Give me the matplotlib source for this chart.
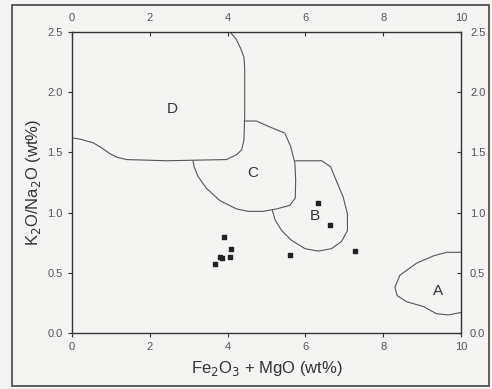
import matplotlib
matplotlib.use("Agg")
import matplotlib.pyplot as plt
from matplotlib.patches import Rectangle

plt.rcParams['font.family'] = ['Liberation Sans', 'DejaVu Sans']

# sample points
fe_mg = [3.90, 4.09, 4.07, 3.80, 3.86, 3.68, 5.61, 6.33, 6.62, 7.28]
k_na = [0.80, 0.70, 0.63, 0.63, 0.62, 0.57, 0.65, 1.08, 0.90, 0.68]

# tectonic field outlines (Bhatia 1983)
field_d_x = [4.06, 4.22, 4.34, 4.42, 4.44, 4.44, 4.42, 4.36, 4.23, 3.97, 2.43, 1.40,
             1.15, 0.97, 0.75, 0.54, 0.20, 0.0]
field_d_y = [2.50, 2.44, 2.36, 2.29, 2.20, 1.80, 1.60, 1.52, 1.48, 1.44, 1.43, 1.44,
             1.46, 1.49, 1.54, 1.58, 1.61, 1.62]

field_c_x = [4.43, 4.74, 5.09, 5.47, 5.62, 5.73, 5.75, 5.74, 5.60, 5.26, 4.91, 4.53,
             4.23, 3.80, 3.46, 3.24, 3.14, 3.11]
field_c_y = [1.76, 1.76, 1.71, 1.66, 1.55, 1.41, 1.27, 1.12, 1.06, 1.03, 1.01, 1.01,
             1.03, 1.10, 1.20, 1.30, 1.38, 1.43]

field_b_x = [5.75, 6.42, 6.65, 6.80, 6.97, 7.08, 7.08, 6.93, 6.67, 6.33, 5.99, 5.64,
             5.39, 5.22, 5.15]
field_b_y = [1.43, 1.43, 1.38, 1.26, 1.13, 0.99, 0.85, 0.76, 0.70, 0.68, 0.70, 0.77,
             0.85, 0.94, 1.02]

field_a_x = [10.0, 9.63, 9.29, 8.86, 8.43, 8.30, 8.36, 8.60, 9.03, 9.37, 9.67, 10.0]
field_a_y = [0.67, 0.67, 0.64, 0.58, 0.48, 0.38, 0.31, 0.26, 0.22, 0.16, 0.15, 0.17]

field_labels = ['D', 'C', 'B', 'A']
label_x = [2.58, 4.64, 6.24, 9.40]
label_y = [1.86, 1.33, 0.97, 0.35]

bg = '#f4f4f2'
ink = '#333333'

fig = plt.figure(figsize=(4.92, 3.89), dpi=100, facecolor=bg)
ax = fig.add_axes([0.1463, 0.144, 0.7907, 0.774], facecolor=bg)

for fx, fy in [(field_d_x, field_d_y), (field_c_x, field_c_y),
               (field_b_x, field_b_y), (field_a_x, field_a_y)]:
    ax.plot(fx, fy, color='#555555', lw=0.8)

ax.scatter(fe_mg, k_na, marker='s', s=10, color='#222222', zorder=3)

for lab, lx, ly in zip(field_labels, label_x, label_y):
    ax.text(lx, ly, lab, fontsize=11, color='#333333', ha='center', va='center')

ax.set_xlim(0, 10)
ax.set_ylim(0, 2.5)
ax.set_xticks([0, 2, 4, 6, 8, 10])
ax.set_yticks([0.0, 0.5, 1.0, 1.5, 2.0, 2.5])
ax.set_yticklabels(['0.0', '0.5', '1.0', '1.5', '2.0', '2.5'])

ax.tick_params(axis='both', which='both', labelsize=8, colors=ink, labelcolor='#555555',
               length=3, width=0.8)
ax.tick_params(axis='x', direction='out', top=True, labeltop=True)
ax.tick_params(axis='y', direction='out', right=True, labelright=True)
for t in ax.xaxis.get_major_ticks():
    t.tick2line.set_marker(3)  # inward tick on top
for t in ax.yaxis.get_major_ticks():
    t.tick2line.set_marker(0)  # inward tick on right

for s in ax.spines.values():
    s.set_color(ink)
    s.set_linewidth(1.0)

ax.set_xlabel('Fe$_2$O$_3$ + MgO (wt%)', fontsize=12, color='#333333', labelpad=5)
ax.set_ylabel('K$_2$O/Na$_2$O (wt%)', fontsize=12, color='#333333', labelpad=3)

# scan frame around the figure
fig.patches.append(Rectangle((0.024, 0.008), 0.97, 0.98, transform=fig.transFigure,
                             fill=False, edgecolor='#444444', lw=1.2))

fig.savefig('out.png', dpi=100, facecolor=bg)
